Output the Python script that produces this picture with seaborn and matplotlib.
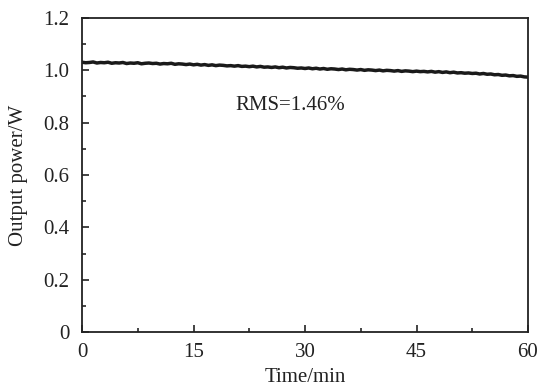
import numpy as np
import pandas as pd
import matplotlib
matplotlib.use("Agg")
import matplotlib.pyplot as plt
import seaborn as sns
from matplotlib.ticker import MultipleLocator

power = [
    1.031, 1.029, 1.030, 1.032, 1.028, 1.030, 1.029, 1.031, 1.027, 1.029,
    1.028, 1.030, 1.026, 1.028, 1.027, 1.029, 1.025, 1.027, 1.028, 1.026,
    1.027, 1.024, 1.026, 1.025, 1.027, 1.023, 1.025, 1.024, 1.022, 1.024,
    1.021, 1.023, 1.020, 1.022, 1.019, 1.021, 1.018, 1.020, 1.019, 1.017,
    1.018, 1.016, 1.018, 1.015, 1.016, 1.014, 1.016, 1.013, 1.015, 1.012,
    1.013, 1.011, 1.013, 1.010, 1.012, 1.009, 1.011, 1.010, 1.008, 1.009,
    1.007, 1.009, 1.006, 1.008, 1.005, 1.007, 1.004, 1.006, 1.005, 1.003,
    1.005, 1.002, 1.004, 1.003, 1.001, 1.003, 1.000, 1.002, 1.001, 0.999,
    1.001, 0.998, 1.000, 0.999, 0.997, 0.999, 0.996, 0.998, 0.997, 0.995,
    0.997, 0.995, 0.996, 0.994, 0.996, 0.993, 0.995, 0.992, 0.994, 0.991,
    0.993, 0.990, 0.991, 0.989, 0.990, 0.988, 0.989, 0.986, 0.988, 0.985,
    0.986, 0.983, 0.984, 0.981, 0.982, 0.979, 0.980, 0.977, 0.978, 0.975, 0.974,
]
time_min = np.linspace(0, 60, len(power))
x_ticks = [0, 15, 30, 45, 60]
y_ticks = [0, 0.2, 0.4, 0.6, 0.8, 1.0, 1.2]
y_tick_labels = ["0", "0.2", "0.4", "0.6", "0.8", "1.0", "1.2"]
annotation = "RMS=1.46%"

df = pd.DataFrame({"Time/min": time_min, "Output power/W": power})

sns.set_style("ticks")
plt.rcParams["font.family"] = ["Liberation Serif", "DejaVu Serif"]

fig = plt.figure(figsize=(5.44, 3.92), dpi=100)
ax = fig.add_axes([82 / 544, 60 / 392, 446 / 544, 314 / 392])
sns.lineplot(data=df, x="Time/min", y="Output power/W", ax=ax,
             color="#1a1a1a", linewidth=2.5)

ax.set_xlim(0, 60)
ax.set_ylim(0, 1.2)
ax.set_xticks(x_ticks)
ax.set_xticklabels([str(v) for v in x_ticks])
ax.set_yticks(y_ticks)
ax.set_yticklabels(y_tick_labels)
ax.xaxis.set_minor_locator(MultipleLocator(7.5))
ax.yaxis.set_minor_locator(MultipleLocator(0.1))
ax.tick_params(which="major", direction="in", length=5, width=1.2,
               labelsize=15, colors="#222222")
ax.tick_params(axis="x", which="major", pad=8)
ax.tick_params(axis="y", which="major", pad=9)
ax.tick_params(which="minor", direction="in", length=3, width=1.2)
for s in ax.spines.values():
    s.set_linewidth(1.3)
    s.set_color("#222222")
    s.set_visible(True)

ax.set_xlabel("Time/min", fontsize=15, color="#222222", labelpad=4)
ax.set_ylabel("Output power/W", fontsize=15, color="#222222", labelpad=11)
ax.text(20.6, 0.865, annotation, fontsize=15, color="#222222", va="center")

fig.savefig("out.png", dpi=100)
